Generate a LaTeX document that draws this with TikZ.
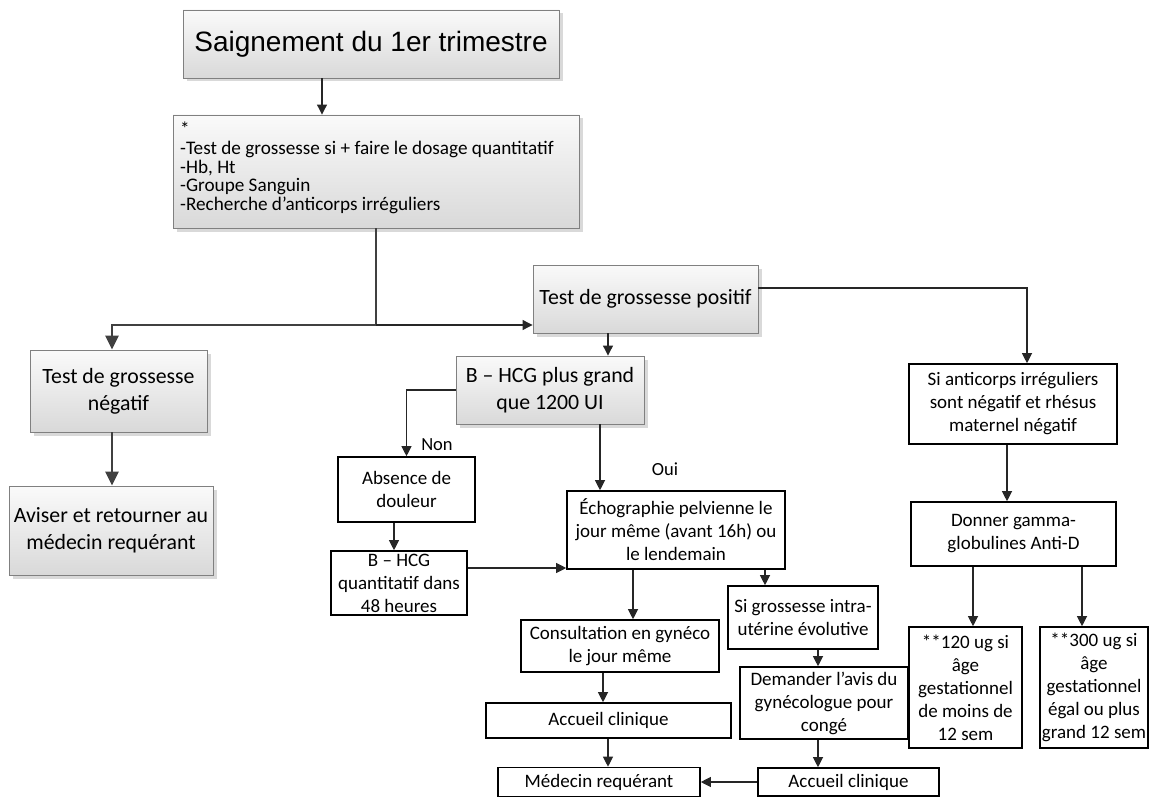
\documentclass[tikz,border=0pt]{standalone}
\usepackage{fontspec}
\setmainfont{Carlito}
\newfontfamily\arialf{Liberation Sans}
\usetikzlibrary{arrows.meta,shadows}
\begin{document}
\begin{tikzpicture}[x=1pt,y=-1pt,
  graybox/.style={draw=black!50, line width=0.9pt, top color=black!2, bottom color=black!15,
    drop shadow={shadow xshift=3.5pt, shadow yshift=-3.5pt, fill=black!15, opacity=1},
    inner sep=0pt, align=center, font=\fontsize{21.8}{27}\selectfont},
  whitebox/.style={draw=black, line width=1.6pt, fill=white, inner sep=0pt, align=center,
    font=\fontsize{19}{23}\selectfont},
  conn/.style={draw=black!85, line width=1.1pt, -{Triangle[width=10pt,length=10pt]}},
  thickconn/.style={draw=black!75, line width=2.6pt, -{Triangle[width=13pt,length=14pt]}},
  lbl/.style={font=\fontsize{18.5}{22}\selectfont, inner sep=0pt}
]
\useasboundingbox (0,0) rectangle (1151,797);

% nodes
\node[graybox, font=\arialf\fontsize{28}{32}\selectfont, minimum width=376pt, minimum height=68pt] (title) at (371,44) {Saignement du 1er trimestre};
\node[graybox, minimum width=406pt, minimum height=113pt] (tests) at (376,171.5) {};
\node[anchor=north west, inner sep=0pt, align=left, font=\fontsize{19.2}{18.6}\selectfont] (teststxt) at (180,122) {*\\-Test de grossesse si + faire le dosage quantitatif\\-Hb, Ht\\-Groupe Sanguin\\-Recherche d’anticorps irréguliers};
\node[graybox, minimum width=177pt, minimum height=82pt] (neg) at (118.5,391) {Test de grossesse\\négatif};
\node[graybox, minimum width=204pt, minimum height=89pt] (aviser) at (111,530.5) {Aviser et retourner au\\médecin requérant};
\node[graybox, minimum width=225pt, minimum height=68pt] (pos) at (645.5,299) {Test de grossesse positif};
\node[graybox, minimum width=188pt, minimum height=68pt] (bhcg) at (550,390) {B – HCG plus grand\\que 1200 UI};

\node[whitebox, minimum width=137pt, minimum height=65pt] (absence) at (406.5,489.5) {Absence de\\douleur};
\node[whitebox, minimum width=136pt, minimum height=64pt] (bq) at (399,583) {B – HCG\\quantitatif dans\\48 heures};
\node[whitebox, minimum width=218pt, minimum height=78pt] (echo) at (676,530) {Échographie pelvienne le\\jour même (avant 16h) ou\\le lendemain};
\node[whitebox, minimum width=198pt, minimum height=52pt] (consult) at (620,646) {Consultation en gynéco\\le jour même};
\node[whitebox, minimum width=245pt, minimum height=35pt] (acc1) at (608.5,720.5) {Accueil clinique};
\node[whitebox, minimum width=202pt, minimum height=29pt] (med) at (599,782) {Médecin requérant};
\node[whitebox, minimum width=150pt, minimum height=63pt] (sig) at (803,617.5) {Si grossesse intra-\\utérine évolutive};
\node[whitebox, minimum width=168pt, minimum height=72pt] (dem) at (824,703) {Demander l’avis du\\gynécologue pour\\congé};
\node[whitebox, minimum width=181pt, minimum height=28pt] (acc2) at (848.5,782) {Accueil clinique};
\node[whitebox, minimum width=208pt, minimum height=80pt] (anti) at (1013,404) {Si anticorps irréguliers\\sont négatif et rhésus\\maternel négatif};
\node[whitebox, minimum width=205pt, minimum height=64pt] (donner) at (1013.5,534) {Donner gamma-\\globulines Anti-D};
\node[whitebox, minimum width=113pt, minimum height=121pt] (b120) at (965.5,687.5) {**120 ug si\\âge\\gestationnel\\de moins de\\12 sem};
\node[whitebox, minimum width=108pt, minimum height=121pt] (b300) at (1094,687.5) {**300 ug si\\âge\\gestationnel\\égal ou plus\\grand 12 sem};

\node[lbl] (non) at (437,445) {Non};
\node[lbl] (oui) at (665,469) {Oui};

% helper coordinates
\coordinate (xa) at (322,0);
\coordinate (j) at (376,325);
\coordinate (xneg) at (112,0);
\coordinate (ypos) at (0,288);
\coordinate (xanti) at (1027,0);
\coordinate (xpb) at (608,0);
\coordinate (xbe) at (600,0);
\coordinate (xab) at (394,0);
\coordinate (ybe) at (0,568);
\coordinate (xec) at (633,0);
\coordinate (xes) at (765,0);
\coordinate (xca) at (603,0);
\coordinate (xam) at (608,0);
\coordinate (xsd) at (818,0);
\coordinate (xad) at (1007,0);
\coordinate (xd1) at (973,0);
\coordinate (xd3) at (1082,0);

% connectors
\draw[conn] (title.south -| xa) -- (tests.north -| xa);
\draw[thickconn] (tests.south -| j) -- (j) -- (j -| xneg) -- (neg.north -| xneg);
\draw[conn] (j) -- (pos.west |- j);
\draw[thickconn] (neg.south -| xneg) -- (aviser.north -| xneg);
\draw[conn] (pos.south -| xpb) -- (bhcg.north -| xpb);
\draw[conn] (pos.east |- ypos) -- (xanti |- ypos) -- (anti.north -| xanti);
\draw[conn] (bhcg.west) -- (bhcg.west -| absence.north) -- (absence.north);
\draw[conn] (bhcg.south -| xbe) -- (echo.north -| xbe);
\draw[conn] (absence.south -| xab) -- (bq.north -| xab);
\draw[conn] (bq.east |- ybe) -- (echo.west |- ybe);
\draw[conn] (echo.south -| xec) -- (consult.north -| xec);
\draw[conn] (echo.south -| xes) -- (sig.north -| xes);
\draw[conn] (consult.south -| xca) -- (acc1.north -| xca);
\draw[conn] (acc1.south -| xam) -- (med.north -| xam);
\draw[conn] (sig.south -| xsd) -- (dem.north -| xsd);
\draw[conn] (dem.south -| xsd) -- (acc2.north -| xsd);
\draw[conn] (acc2.west) -- (med.east);
\draw[conn] (anti.south -| xad) -- (donner.north -| xad);
\draw[conn] (donner.south -| xd1) -- (b120.north -| xd1);
\draw[conn] (donner.south -| xd3) -- (b300.north -| xd3);
\end{tikzpicture}
\end{document}
